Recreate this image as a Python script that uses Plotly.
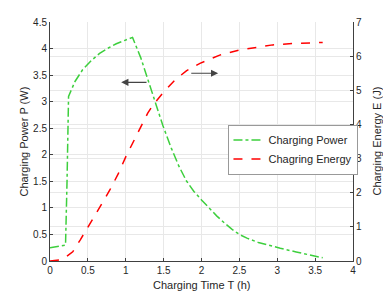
import plotly.graph_objects as go

# Charging power (left axis)
t_power = [0, 0.1, 0.205, 0.225, 0.245, 0.33, 0.43, 0.55, 0.655, 0.77, 0.875, 0.98, 1.09,
           1.2, 1.294, 1.4, 1.49, 1.6, 1.7, 1.8, 1.9, 2.0, 2.1, 2.2, 2.3, 2.4, 2.5, 2.6,
           2.75, 2.9, 3.04, 3.25, 3.48, 3.6]
p_power = [0.25, 0.27, 0.3, 1.5, 3.1, 3.38, 3.6, 3.78, 3.91, 4.01, 4.09, 4.15, 4.21,
           3.82, 3.4, 2.94, 2.55, 2.13, 1.79, 1.51, 1.31, 1.15, 0.99, 0.85, 0.72, 0.6, 0.5,
           0.43, 0.35, 0.29, 0.24, 0.17, 0.1, 0.06]

# Charging energy (right axis)
t_energy = [0, 0.125, 0.2, 0.3, 0.4, 0.52, 0.65, 0.79, 0.9, 1.0, 1.15, 1.29, 1.36, 1.5,
            1.65, 1.8, 1.98, 2.24, 2.5, 2.75, 2.94, 3.2, 3.4, 3.6]
e_energy = [0, 0.03, 0.1, 0.27, 0.62, 1.05, 1.55, 2.08, 2.55, 3.05, 3.7, 4.33, 4.57, 4.95,
            5.3, 5.57, 5.79, 6.03, 6.18, 6.27, 6.33, 6.37, 6.39, 6.4]

x_ticks = [0, 0.5, 1, 1.5, 2, 2.5, 3, 3.5, 4]
y_ticks = [0, 0.5, 1, 1.5, 2, 2.5, 3, 3.5, 4, 4.5]
y2_ticks = [0, 1, 2, 3, 4, 5, 6, 7]

FONT = "Liberation Sans, Arial, sans-serif"
TXT = "#262626"
GRID = "#e8e8e8"
AX = "#404040"

fig = go.Figure()
fig.add_trace(go.Scatter(x=t_power, y=p_power, mode="lines", name="Charging Power",
                         line=dict(color="#3dcf3d", width=1.5, dash="dashdot")))
fig.add_trace(go.Scatter(x=t_energy, y=e_energy, mode="lines", name="Chagring Energy",
                         yaxis="y2", line=dict(color="#ff0000", width=1.5, dash="dash")))

# page body has an 8px margin, so the figure is made 8px smaller and margins shifted
fig.update_layout(
    width=383, height=285,
    margin=dict(l=42, r=38, t=14, b=32),
    paper_bgcolor="white", plot_bgcolor="white",
    font=dict(family=FONT, size=10, color=TXT),
    showlegend=True,
    legend=dict(x=0.587, y=0.569, xanchor="left", yanchor="top",
                bgcolor="white", bordercolor="#555", borderwidth=0.6,
                font=dict(size=11, color=TXT), tracegroupgap=0,
                itemwidth=30),
    xaxis=dict(range=[0, 4], tickvals=x_ticks, ticktext=[f"{v:g}" for v in x_ticks],
               showgrid=True, gridcolor=GRID, zeroline=False, automargin=False,
               showline=True, linecolor=AX, linewidth=1,
               ticks="inside", ticklen=3, tickcolor=AX),
    yaxis=dict(range=[0, 4.5], tickvals=y_ticks, ticktext=[f"{v:g}" for v in y_ticks],
               showgrid=True, gridcolor=GRID, zeroline=False, automargin=False,
               showline=True, linecolor=AX, linewidth=1,
               ticks="inside", ticklen=3, tickcolor=AX),
    yaxis2=dict(range=[0, 7], tickvals=y2_ticks, overlaying="y", side="right",
                showgrid=True, gridcolor=GRID, zeroline=False, automargin=False,
                showline=True, linecolor=AX, linewidth=1,
                ticks="inside", ticklen=3, tickcolor=AX),
)

# axis titles
fig.add_annotation(text="Charging Time T (h)", x=0.5, y=0, xref="paper", yref="paper",
                   xanchor="center", yanchor="middle", yshift=-24, showarrow=False,
                   font=dict(size=11, color=TXT))
fig.add_annotation(text="Charging Power P (W)", x=0, y=0.5, xref="paper", yref="paper",
                   xanchor="center", yanchor="middle", xshift=-27, textangle=-90,
                   showarrow=False, font=dict(size=11, color=TXT))
fig.add_annotation(text="Charging Energy E (J)", x=1, y=0.5, xref="paper", yref="paper",
                   xanchor="center", yanchor="middle", xshift=23, textangle=-90,
                   showarrow=False, font=dict(size=11, color=TXT))

# direction arrows
fig.add_annotation(x=0.94, y=3.365, ax=1.294, ay=3.365, xref="x", yref="y",
                   axref="x", ayref="y", text="", showarrow=True,
                   arrowhead=2, arrowsize=1.2, arrowwidth=1.2, arrowcolor="#444")
fig.add_annotation(x=2.22, y=3.535, ax=1.845, ay=3.535, xref="x", yref="y",
                   axref="x", ayref="y", text="", showarrow=True,
                   arrowhead=2, arrowsize=1.2, arrowwidth=1.2, arrowcolor="#444")

fig.write_html("out.html")
